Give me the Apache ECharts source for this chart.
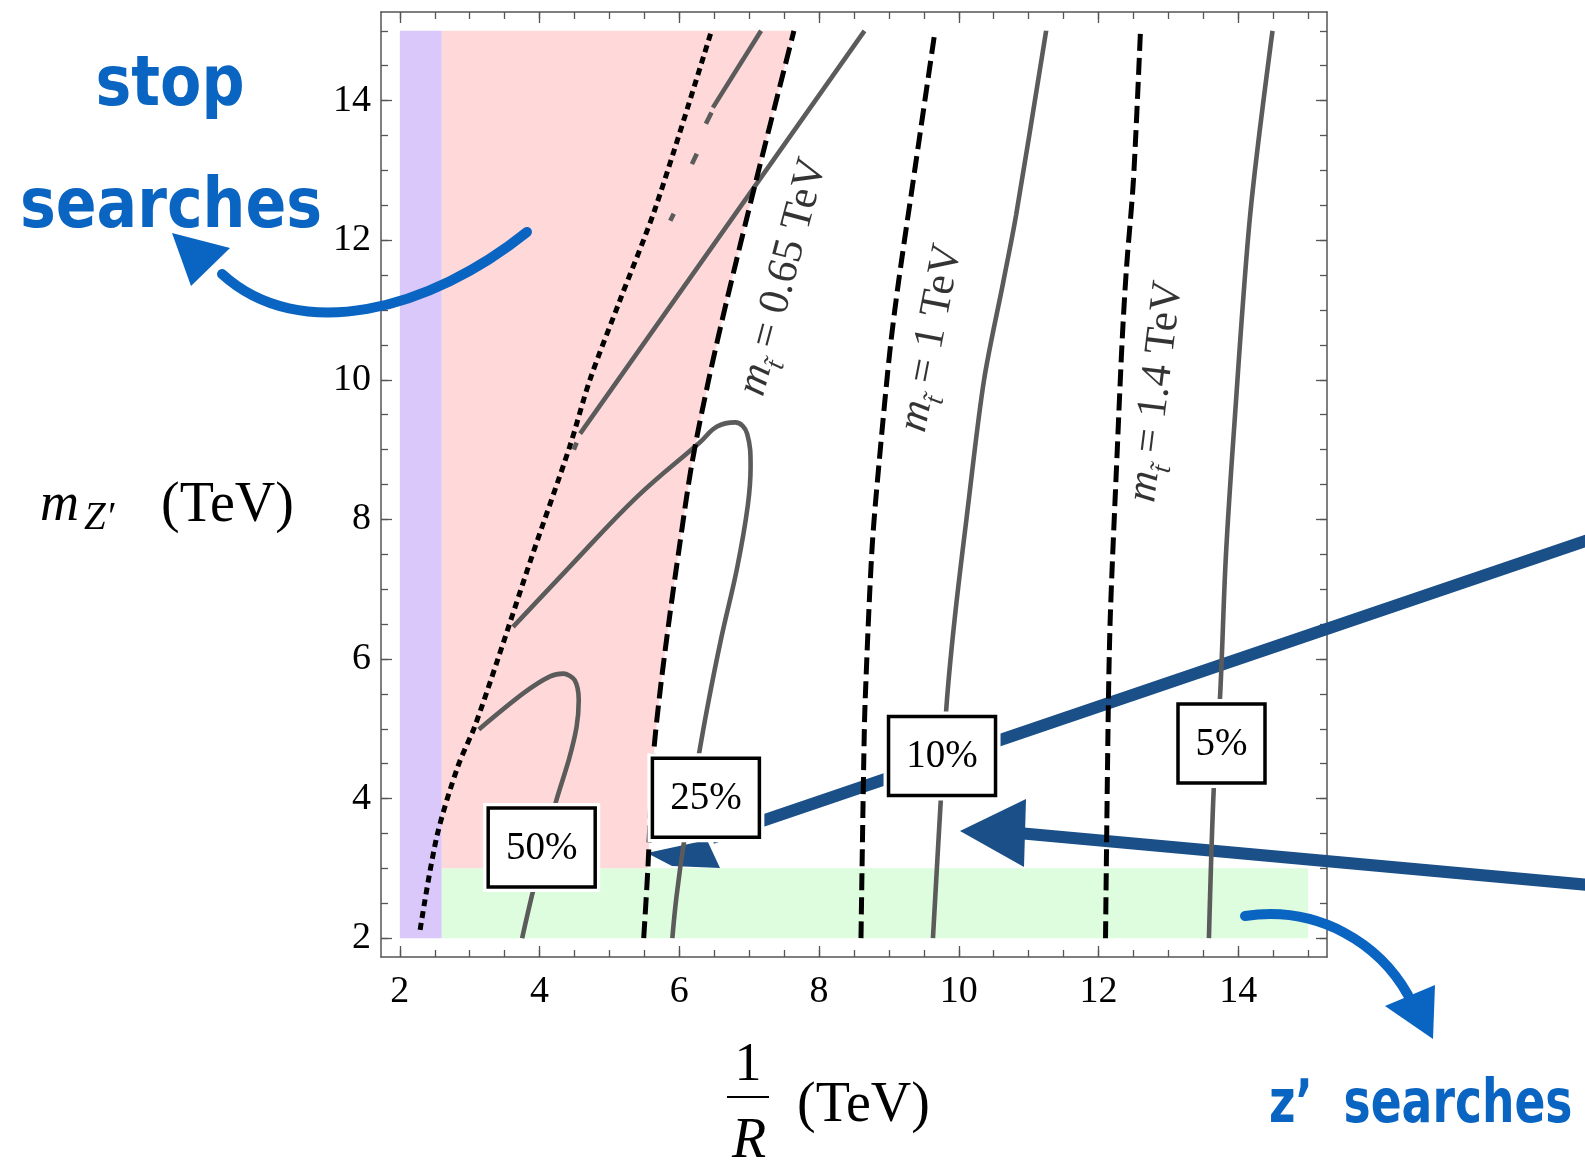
<!DOCTYPE html>
<html><head><meta charset="utf-8">
<script src="https://cdn.jsdelivr.net/npm/echarts@6/dist/echarts.min.js"></script>
<style>html,body{margin:0;padding:0;background:#fff}#c{width:1585px;height:1169px}</style>
</head><body><div id="c"></div>
<script>
// ---------- data ----------
const X_TICK_LABELS = [2, 4, 6, 8, 10, 12, 14];
const Y_TICK_LABELS = [2, 4, 6, 8, 10, 12, 14];
const MINOR_TICKS = [2, 2.5, 3, 3.5, 4, 4.5, 5, 5.5, 6, 6.5, 7, 7.5, 8, 8.5, 9, 9.5, 10, 10.5, 11, 11.5, 12, 12.5, 13, 13.5, 14, 14.5, 15];

// excluded regions
const PURPLE_REGION = [[2, 2], [2.6, 2], [2.6, 15], [2, 15]];
const GREEN_REGION = [[2.6, 2], [15, 2], [15, 3], [2.6, 3]];
const PINK_LEFT = [[2.6, 3], [2.6, 15]];

// stop-mass lines (dashed) and boundary (dotted)
const MSTOP_065 = [[5.49, 2.0], [5.55, 3.0], [5.62, 4.5], [5.72, 5.5], [5.86, 6.6], [6.0, 7.6], [6.18, 8.8], [6.42, 10.0], [6.68, 11.14], [7.10, 12.86], [7.64, 15.0]];
const MSTOP_1 = [[8.60, 2.0], [8.64, 4.56], [8.66, 5.41], [8.76, 7.61], [8.88, 9.04], [9.02, 10.47], [9.14, 11.42], [9.35, 12.87], [9.66, 15.0]];
const MSTOP_14 = [[12.10, 2.0], [12.14, 5.3], [12.17, 6.66], [12.27, 9.04], [12.34, 10.6], [12.40, 11.6], [12.50, 12.87], [12.60, 15.0]];
const DOTTED = [[2.29, 2.12], [2.53, 3.46], [2.83, 4.46], [3.07, 5.03], [3.40, 5.99], [3.89, 7.47], [4.43, 9.04], [4.72, 10.0], [5.15, 11.14], [5.66, 12.47], [6.46, 15.0]];

// tuning contours (solid gray)
const C50_LOOP = [[3.13, 4.99], [3.77, 5.51], [4.15, 5.75], [4.34, 5.79], [4.50, 5.70], [4.56, 5.41], [4.53, 5.03], [4.42, 4.56], [4.23, 3.94], [3.90, 2.65], [3.75, 2.0]];
const C50_UPPER = [
  [[7.17, 15.0], [6.48, 13.90]],
  [[6.46, 13.83], [6.38, 13.67]],
  [[6.25, 13.24], [6.18, 13.09]],
  [[5.92, 12.38], [5.87, 12.28]],
  [[4.53, 9.10], [4.49, 9.00]]
];
const C25_LOOP = [[3.62, 6.46], [4.43, 7.32], [5.39, 8.32], [6.30, 9.11], [6.54, 9.33], [6.80, 9.39], [6.97, 9.23], [7.02, 8.75], [6.98, 8.2], [6.83, 7.32], [6.60, 6.3], [6.40, 5.3], [6.24, 4.4], [6.07, 3.4], [5.96, 2.6], [5.90, 2.0]];
const C25_UPPER = [[4.58, 9.23], [6.62, 12.12], [8.65, 15.0]];
const C10 = [[9.63, 2.0], [9.74, 3.94], [9.83, 5.41], [9.95, 6.66], [10.12, 8.09], [10.36, 9.99], [10.64, 11.42], [10.82, 12.36], [11.25, 15.0]];
const C5 = [[13.58, 2.0], [13.65, 4.16], [13.74, 5.47], [13.82, 7.42], [13.94, 9.30], [14.17, 12.36], [14.49, 15.0]];

// labels
const BOX_TEXT = ['50%', '25%', '10%', '5%'];
const BOX_POS = [[4.03, 3.30], [6.38, 4.01], [9.76, 4.61], [13.76, 4.79]];
const MSTOP_TEXT = ['0.65', '1', '1.4'];
const MSTOP_POS = [[7.58, 11.45], [9.70, 10.58], [12.92, 9.82]];
const MSTOP_ROT = [75, 79, 83];

// ---------- styles ----------
const SERIF = 'Liberation Serif';
const HAND = 'DejaVu Sans';
const BLUE = '#0a64c1';
const DARKBLUE = '#1a4f87';
const GRAY = '#5b5b5b';
const XMIN = 1.73, XMAX = 15.27, YMIN = 1.73, YMAX = 15.27;

const pinkPoly = PINK_LEFT.concat(MSTOP_065.filter(p => p[1] >= 3).slice().reverse());
const REGIONS = [
  { poly: PURPLE_REGION, color: '#dac8fb' },
  { poly: GREEN_REGION, color: '#ddfdde' },
  { poly: pinkPoly, color: '#ffd9d9' }
];

const frameLine = { show: true, onZero: false, lineStyle: { color: '#555', width: 1.5 } };
const tickStyle = { color: '#555', width: 1.3 };
function xAx(pos, major) {
  return {
    type: 'value', position: pos, min: XMIN, max: XMAX, gridIndex: 0,
    axisLine: major ? frameLine : { show: false },
    axisTick: { show: true, inside: true, length: major ? 11 : 7, customValues: major ? X_TICK_LABELS : MINOR_TICKS, lineStyle: tickStyle },
    axisLabel: (major && pos === 'bottom') ? { show: true, customValues: X_TICK_LABELS, margin: 16, fontFamily: SERIF, fontSize: 38, color: '#000', formatter: v => String(v) } : { show: false },
    splitLine: { show: false }
  };
}
function yAx(pos, major) {
  return {
    type: 'value', position: pos, min: YMIN, max: YMAX, gridIndex: 0,
    axisLine: major ? frameLine : { show: false },
    axisTick: { show: true, inside: true, length: major ? 11 : 7, customValues: major ? Y_TICK_LABELS : MINOR_TICKS, lineStyle: tickStyle },
    axisLabel: (major && pos === 'left') ? { show: true, customValues: Y_TICK_LABELS, margin: 10, fontFamily: SERIF, fontSize: 38, color: '#000', formatter: v => String(v) } : { show: false },
    splitLine: { show: false }
  };
}

function lineSeries(data, style, smooth) {
  return {
    type: 'line', data: data, xAxisIndex: 0, yAxisIndex: 0, symbol: 'none', showSymbol: false,
    smooth: smooth === undefined ? 0.3 : smooth, lineStyle: style, z: 3, silent: true, animation: false
  };
}
const grayStyle = { color: GRAY, width: 4.6 };
const dashStyle = { color: '#000', width: 5, type: [17, 7] };
const dotStyle = { color: '#000', width: 5, type: [7, 5] };

const series = [];
series.push({
  type: 'custom', coordinateSystem: 'cartesian2d', xAxisIndex: 0, yAxisIndex: 0, z: 1, silent: true,
  data: REGIONS.map(r => r.poly[0]),
  renderItem: function (params, api) {
    const r = REGIONS[params.dataIndex];
    return { type: 'polygon', shape: { points: r.poly.map(p => api.coord(p)) }, style: { fill: r.color } };
  }
});
series.push(lineSeries(C50_LOOP, grayStyle));
C50_UPPER.forEach(seg => series.push(lineSeries(seg, grayStyle, false)));
series.push(lineSeries(C25_LOOP, grayStyle, 0.4));
series.push(lineSeries(C25_UPPER, grayStyle, false));
series.push(lineSeries(C10, grayStyle));
series.push(lineSeries(C5, grayStyle));
series.push(lineSeries(DOTTED, dotStyle));
series.push(lineSeries(MSTOP_065, dashStyle));
series.push(lineSeries(MSTOP_1, dashStyle));
series.push(lineSeries(MSTOP_14, dashStyle));

const noStroke = { textBorderWidth: 0, textBorderColor: 'transparent', textShadowBlur: 0 };
// stop-mass labels
series.push({
  type: 'scatter', xAxisIndex: 0, yAxisIndex: 0, symbolSize: 0, z: 5, silent: true,
  itemStyle: { color: 'transparent' },
  data: MSTOP_POS.map((p, i) => ({ value: p, name: MSTOP_TEXT[i], label: { rotate: MSTOP_ROT[i] } })),
  label: Object.assign({
    show: true, position: 'inside', color: '#000',
    formatter: p => '{m|m}{t|t\u0303}{n| = ' + p.name + ' TeV}',
    rich: {
      m: Object.assign({ fontFamily: SERIF, fontStyle: 'italic', fontSize: 43, lineHeight: 46, verticalAlign: 'bottom', padding: [0, 0, 8, 0], color: '#000' }, noStroke),
      t: Object.assign({ fontFamily: SERIF, fontStyle: 'italic', fontSize: 27, lineHeight: 30, verticalAlign: 'bottom', color: '#000' }, noStroke),
      n: Object.assign({ fontFamily: SERIF, fontSize: 43, lineHeight: 46, verticalAlign: 'bottom', padding: [0, 0, 8, 0], color: '#000' }, noStroke)
    }
  }, noStroke)
});
// percentage boxes, drawn at their data positions
series.push({
  type: 'custom', coordinateSystem: 'cartesian2d', xAxisIndex: 0, yAxisIndex: 0, z: 7, silent: true,
  data: BOX_POS,
  renderItem: function (params, api) {
    const c = api.coord(BOX_POS[params.dataIndex]);
    const t = BOX_TEXT[params.dataIndex];
    const w = 47 + 20 * t.length, h = 79;
    return {
      type: 'group', children: [
        { type: 'rect', shape: { x: c[0] - w / 2 - 5, y: c[1] - h / 2 - 5, width: w + 10, height: h + 10 }, style: { fill: '#fff' } },
        { type: 'rect', shape: { x: c[0] - w / 2, y: c[1] - h / 2, width: w, height: h }, style: { fill: '#fff', stroke: '#000', lineWidth: 3.5 } },
        { type: 'text', x: c[0], y: c[1] + 1, style: { text: t, font: '39px "' + SERIF + '"', fill: '#000', align: 'center', verticalAlign: 'middle' } }
      ]
    };
  }
});

// ---------- annotations (axis titles + hand-drawn arrows) ----------
const graphic = [
  // y title
  { type: 'text', x: 40, y: 506, z: 10, style: { text: 'm', font: 'italic 54px "' + SERIF + '"', fill: '#000', align: 'left', verticalAlign: 'middle' } },
  { type: 'text', x: 84, y: 519, z: 10, style: { text: 'Z\u2032', font: 'italic 39px "' + SERIF + '"', fill: '#000', align: 'left', verticalAlign: 'middle' } },
  { type: 'text', x: 161, y: 506, z: 10, style: { text: '(TeV)', font: '56px "' + SERIF + '"', fill: '#000', align: 'left', verticalAlign: 'middle' } },
  // x title
  { type: 'text', x: 748, y: 1066, z: 10, style: { text: '1', font: '54px "' + SERIF + '"', fill: '#000', align: 'center', verticalAlign: 'middle' } },
  { type: 'line', z: 10, shape: { x1: 727, y1: 1097, x2: 769, y2: 1097 }, style: { stroke: '#000', lineWidth: 2.2 } },
  { type: 'text', x: 749, y: 1142, z: 10, style: { text: 'R', font: 'italic 56px "' + SERIF + '"', fill: '#000', align: 'center', verticalAlign: 'middle' } },
  { type: 'text', x: 797, y: 1106, z: 10, style: { text: '(TeV)', font: '56px "' + SERIF + '"', fill: '#000', align: 'left', verticalAlign: 'middle' } },
  // "stop searches"
  { type: 'text', x: 170, y: 87, scaleX: 0.86, z: 10, style: { text: 'stop', font: 'bold 70px "' + HAND + '"', fill: BLUE, align: 'center', verticalAlign: 'middle' } },
  { type: 'text', x: 171, y: 209, scaleX: 0.86, z: 10, style: { text: 'searches', font: 'bold 70px "' + HAND + '"', fill: BLUE, align: 'center', verticalAlign: 'middle' } },
  { type: 'bezierCurve', z: 2, shape: { x1: 527, y1: 232, cpx1: 430, cpy1: 310, cpx2: 300, cpy2: 345, x2: 222, y2: 274 }, style: { stroke: BLUE, lineWidth: 10, fill: null, lineCap: 'round' } },
  { type: 'polygon', z: 2, shape: { points: [[172, 233], [230, 248], [191, 286]] }, style: { fill: BLUE } },
  // "z' searches"
  { type: 'text', x: 1291, y: 1106, scaleX: 0.76, z: 10, style: { text: 'z\u2019', font: 'bold 60px "' + HAND + '"', fill: BLUE, align: 'center', verticalAlign: 'middle' } },
  { type: 'text', x: 1458, y: 1106, scaleX: 0.76, z: 10, style: { text: 'searches', font: 'bold 60px "' + HAND + '"', fill: BLUE, align: 'center', verticalAlign: 'middle' } },
  { type: 'bezierCurve', z: 2, shape: { x1: 1245, y1: 916, cpx1: 1320, cpy1: 905, cpx2: 1380, cpy2: 945, x2: 1408, y2: 995 }, style: { stroke: BLUE, lineWidth: 10, fill: null, lineCap: 'round' } },
  { type: 'polygon', z: 2, shape: { points: [[1385, 1006], [1435, 985], [1433, 1039]] }, style: { fill: BLUE } },
  // thick dark arrows
  { type: 'line', z: 2, shape: { x1: 1600, y1: 536, x2: 712, y2: 838 }, style: { stroke: DARKBLUE, lineWidth: 12 } },
  { type: 'polygon', z: 2, shape: { points: [[647, 853], [707, 840], [720, 868], [672, 866]] }, style: { fill: DARKBLUE } },
  { type: 'line', z: 2, shape: { x1: 1600, y1: 886, x2: 1018, y2: 833 }, style: { stroke: DARKBLUE, lineWidth: 12 } },
  { type: 'polygon', z: 2, shape: { points: [[960, 831], [1026, 799], [1024, 867]] }, style: { fill: DARKBLUE } }
];

const chart = echarts.init(document.getElementById('c'), null, { renderer: 'canvas' });
chart.setOption({
  animation: false,
  backgroundColor: '#fff',
  grid: { left: 381, top: 12, width: 946, height: 945, containLabel: false },
  xAxis: [xAx('bottom', true), xAx('bottom', false), xAx('top', true), xAx('top', false)],
  yAxis: [yAx('left', true), yAx('left', false), yAx('right', true), yAx('right', false)],
  series: series,
  graphic: graphic
});
</script>
</body></html>
